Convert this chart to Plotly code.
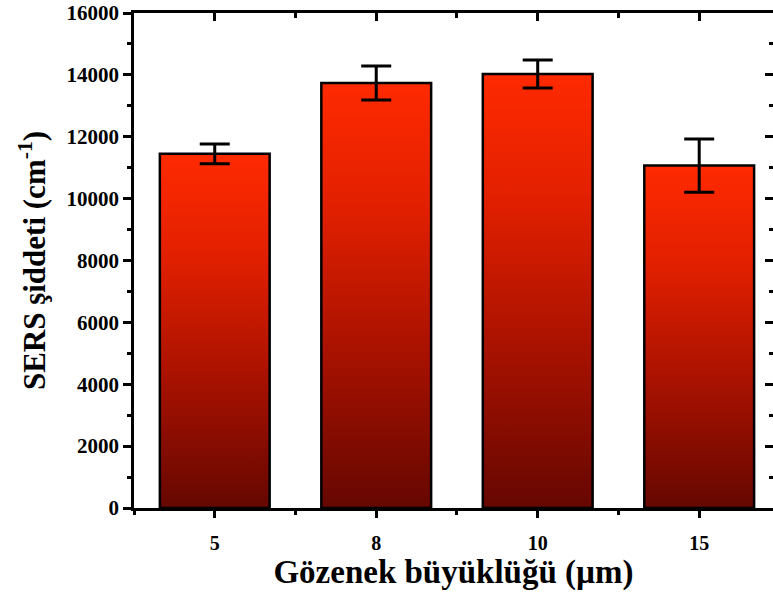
import plotly.graph_objects as go

categories = ["5", "8", "10", "15"]
intensity = [11450, 13740, 14030, 11070]
errors = [320, 550, 450, 860]
y_ticks = [0, 2000, 4000, 6000, 8000, 10000, 12000, 14000, 16000]
y_tick_text = [str(t) for t in y_ticks]

pos = list(range(len(categories)))
half = 0.34
font_family = "Liberation Serif"

fig = go.Figure()

grad = [[0.0, "#650701"], [0.35, "#a51100"], [0.7, "#e01f00"], [1.0, "#ff2a00"]]

for i, v in zip(pos, intensity):
    fig.add_trace(go.Scatter(
        x=[i - half, i - half, i + half, i + half, i - half],
        y=[0, v, v, 0, 0],
        mode="lines",
        fill="toself",
        fillgradient=dict(type="vertical", colorscale=grad),
        line=dict(color="black", width=2.5),
        hoverinfo="skip",
        showlegend=False,
    ))

fig.add_trace(go.Scatter(
    x=pos, y=intensity, mode="markers",
    marker=dict(size=1, color="rgba(0,0,0,0)"),
    error_y=dict(type="data", array=errors, visible=True,
                 color="black", thickness=3, width=15),
    showlegend=False, hoverinfo="skip",
))

# dummy trace for mirrored (inside) tick axes
fig.add_trace(go.Scatter(
    x=pos, y=intensity, xaxis="x2", yaxis="y2", mode="markers",
    marker=dict(size=1, color="rgba(0,0,0,0)"),
    showlegend=False, hoverinfo="skip",
))

xrange = [-0.5, 3.457]
yrange = [0, 16001]

fig.update_layout(
    width=773, height=592,
    margin=dict(l=134, r=0, t=13, b=84),
    paper_bgcolor="white", plot_bgcolor="white",
    font=dict(family=font_family, color="black", weight="bold"),
    xaxis=dict(
        range=xrange, tickvals=pos, ticktext=categories, automargin=False,
        showline=True, linecolor="black", linewidth=2.5, mirror=True,
        ticks="outside", ticklen=7, tickwidth=2.5, tickcolor="black",
        ticklabelstandoff=8, ticklabeloverflow="allow",
        minor=dict(tickvals=[-0.5, 0.5, 1.5, 2.5, 3.5], ticklen=4, tickwidth=2.5, tickcolor="black", ticks="outside"),
        tickfont=dict(size=20, family=font_family, weight="bold"),
        showgrid=False, zeroline=False,
        title=dict(text="Gözenek büyüklüğü (µm)", standoff=4,
                   font=dict(size=33, family=font_family, weight="bold")),
    ),
    yaxis=dict(
        range=yrange, tickvals=y_ticks, ticktext=y_tick_text, automargin=False,
        showline=True, linecolor="black", linewidth=2.5, mirror=False,
        ticks="outside", ticklen=8, tickwidth=2.5, tickcolor="black",
        ticklabeloverflow="allow",
        minor=dict(dtick=1000, ticklen=4, tickwidth=2.5, tickcolor="black", ticks="outside"),
        tickfont=dict(size=21, family=font_family, weight="bold"),
        showgrid=False, zeroline=False,
        title=dict(text="SERS şiddeti (cm<sup>-1</sup>)", standoff=12,
                   font=dict(size=31, family=font_family, weight="bold")),
    ),
    xaxis2=dict(
        overlaying="x", side="top", anchor="y2", range=xrange, tickvals=pos,
        automargin=False,
        showticklabels=False, showline=False, showgrid=False, zeroline=False,
        ticks="inside", ticklen=8, tickwidth=2.5, tickcolor="black",
        minor=dict(tickvals=[-0.5, 0.5, 1.5, 2.5, 3.5], ticklen=5, tickwidth=2.5, tickcolor="black", ticks="inside"),
    ),
    yaxis2=dict(
        overlaying="y", side="right", anchor="x2", range=yrange, tickvals=y_ticks,
        automargin=False,
        showticklabels=False, showline=False, showgrid=False, zeroline=False,
        ticks="inside", ticklen=8, tickwidth=2.5, tickcolor="black",
        minor=dict(dtick=1000, ticklen=4, tickwidth=2.5, tickcolor="black", ticks="inside"),
    ),
)

fig.write_html("out.html")
